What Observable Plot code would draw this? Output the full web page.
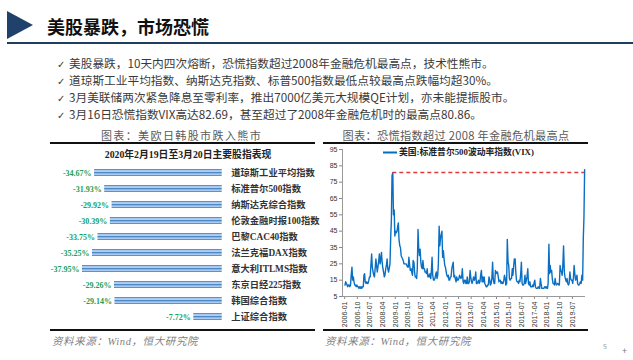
<!DOCTYPE html>
<html><head><meta charset="utf-8">
<script src="https://cdn.jsdelivr.net/npm/d3@7"></script>
<script src="https://cdn.jsdelivr.net/npm/@observablehq/plot@0.6"></script>
<style>
body{margin:0;background:#fff;}
#page{position:relative;width:633px;height:360px;overflow:hidden;background:#fff;font-family:"Noto Sans CJK SC",sans-serif;}
.abs{position:absolute;white-space:nowrap;}
.tri{position:absolute;left:7px;top:11px;width:0;height:0;border-left:26px solid #1f416b;border-top:14px solid transparent;border-bottom:14px solid transparent;}
.hline{position:absolute;left:7px;top:42px;width:626px;height:2px;background:#1f3d5e;}
.title{left:47px;top:15px;font-size:18px;line-height:22px;font-weight:bold;color:#111;}
.bullets{left:57px;top:54.5px;font-size:11.7px;line-height:15.3px;color:#3a3a3a;}
.bullets .ck{display:inline-block;width:12px;font-family:"DejaVu Sans";font-size:10px;}
.ctitle{font-size:11px;color:#5a5a5a;letter-spacing:0.8px;transform:translate(-50%,-50%);}
.rule{position:absolute;height:2px;background:#111;}
.sub{font-family:"Liberation Serif","Noto Sans CJK SC";font-weight:bold;font-size:9.8px;color:#222;transform:translate(-50%,-50%);}
.src{font-family:"Liberation Serif","Noto Sans CJK SC";font-style:italic;font-size:10.5px;color:#7f7f7f;letter-spacing:0.6px;transform:translateY(-50%);}
.legend{left:383px;top:151px;transform:translateY(-50%);font-family:"Liberation Serif","Noto Sans CJK SC";font-weight:bold;font-size:8.8px;color:#222;}
.legend .ln{display:inline-block;width:14px;height:1.5px;background:#0070c0;vertical-align:middle;margin-right:2px;}
.pn{left:603px;top:341px;font-size:7px;color:#999;}
</style></head><body>
<div id="page">
  <div class="tri"></div>
  <div class="hline"></div>
  <div class="abs title">美股暴跌，市场恐慌</div>
  <div class="abs bullets" id="bullets"></div>
  <div class="abs ctitle" style="left:181.5px;top:135px;letter-spacing:1.4px;">图表：美欧日韩股市跌入熊市</div>
  <div class="rule" style="left:50px;top:142px;width:265px;"></div>
  <div class="abs sub" style="left:188px;top:153.5px;">2020年2月19日至3月20日主要股指表现</div>
  <div class="abs" id="left" style="left:20px;top:160px;"></div>
  <div class="rule" style="left:50px;top:329px;width:265px;"></div>
  <div class="abs src" style="left:52px;top:339.5px;">资料来源：Wind，恒大研究院</div>

  <div class="abs ctitle" style="left:456px;top:135px;font-size:11.2px;letter-spacing:0.3px;">图表：恐慌指数超过 2008 年金融危机最高点</div>
  <div class="rule" style="left:323px;top:142px;width:265px;"></div>
  <div class="abs" id="right" style="left:318px;top:143px;"></div>
  <div class="abs legend"><span class="ln"></span>美国:标准普尔500波动率指数(VIX)</div>
  <div class="rule" style="left:323px;top:329px;width:265px;"></div>
  <div class="abs src" style="left:325px;top:340px;">资料来源：Wind，恒大研究院</div>
  <div class="abs pn">5</div>
  <div class="abs" style="left:622px;top:346px;font-size:9px;line-height:10px;color:#777;">+</div>
</div>
<script>
// ---------- Bullet texts ----------
const bulletTexts = [
  "美股暴跌，10天内四次熔断，恐慌指数超过2008年金融危机最高点，技术性熊市。",
  "道琼斯工业平均指数、纳斯达克指数、标普500指数最低点较最高点跌幅均超30%。",
  "3月美联储两次紧急降息至零利率，推出7000亿美元大规模QE计划，亦未能提振股市。",
  "3月16日恐慌指数VIX高达82.69，甚至超过了2008年金融危机时的最高点80.86。"
];

// ---------- Left chart data ----------
const indexNames = ["道琼斯工业平均指数","标准普尔500指数","纳斯达克综合指数","伦敦金融时报100指数","巴黎CAC40指数","法兰克福DAX指数","意大利ITLMS指数","东京日经225指数","韩国综合指数","上证综合指数"];
const indexChanges = [-34.67,-31.93,-29.92,-30.39,-33.75,-35.25,-37.95,-29.26,-29.14,-7.72];

// ---------- Right chart data (VIX, two readings per month) ----------
const vixYears = [2006,2007,2008,2009,2010,2011,2012,2013,2014,2015,2016,2017,2018,2019,2020];
const vix2006 = [12,14, 13,12, 11,12, 12,11, 12,18, 23,15, 17,14, 12,12, 11,12, 11,11, 10,11, 10,11];
const vix2007 = [10,11, 11,18, 19,14, 13,14, 13,13, 15,17, 17,24, 31,23, 20,18, 17,22, 28,24, 20,23];
const vix2008 = [27,31, 25,28, 32,26, 22,20, 17,18, 22,24, 28,22, 20,22, 25,40, 52,79, 80.86,55, 58,42];
const vix2009 = [45,44, 45,48, 50,40, 36,35, 30,29, 28,27, 25,25, 25,25, 24,23, 23,29, 24,21, 22,20];
const vix2010 = [18,27, 26,20, 17,17, 16,22, 46,35, 30,34, 26,23, 22,27, 22,22, 20,20, 19,22, 17,18];
const vix2011 = [17,19, 16,21, 29,18, 15,15, 16,18, 20,16, 18,25, 48,36, 41,43, 45,29, 33,28, 24,23];
const vix2012 = [20,18, 17,18, 15,15, 17,17, 22,24, 26,17, 18,16, 14,17, 15,15, 16,18, 17,16, 17,22];
const vix2013 = [14,13, 15,15, 13,13, 17,13, 13,14, 21,17, 14,13, 15,17, 15,16, 20,13, 13,14, 15,13];
const vix2014 = [14,18, 21,14, 17,14, 17,13, 12,11, 11,12, 12,17, 15,12, 13,16, 26,16, 13,13, 21,19];
const vix2015 = [20,20, 17,14, 15,15, 13,14, 13,13, 15,18, 16,12, 13,40, 26,24, 16,15, 16,16, 22,18];
const vix2016 = [24,28, 28,20, 15,14, 14,13, 15,14, 19,26, 13,12, 12,13, 18,13, 15,17, 22,13, 12,14];
const vix2017 = [11,11, 11,12, 11,13, 15,11, 10,10, 10,11, 10,10, 16,13, 10,10, 10,10, 11,11, 10,11];
const vix2018 = [10,13, 37,19, 24,20, 21,16, 13,13, 12,16, 13,12, 13,13, 12,12, 24,21, 20,18, 25,36];
const vix2019 = [20,17, 15,14, 16,13, 12,13, 20,16, 15,15, 13,16, 24,19, 15,16, 18,13, 12,12, 13,14];
const vix2020 = [13,18, 15,40, 54,82.69];
const vixPeak2008 = 80.86;
const yTicks = [5,15,25,35,45,55,65,75,85,95];
const xTickLabels = ["2006-01","2006-10","2007-07","2008-04","2009-01","2009-10","2010-07","2011-04","2012-01","2012-10","2013-07","2014-04","2015-01","2015-10","2016-07","2017-04","2018-01","2018-10","2019-07"];

// ---------- Bullets ----------
document.getElementById("bullets").innerHTML = bulletTexts.map(t => `<div><span class="ck">✓</span>${t}</div>`).join("");

// ---------- Left bar chart ----------
const barData = indexNames.map((name, i) => ({name, value: indexChanges[i]}));
const left = Plot.plot({
  width: 300, height: 170,
  marginLeft: 0, marginRight: 98.3, marginTop: 0, marginBottom: 0,
  x: {domain: [-54.8, 0], axis: null},
  y: {domain: indexNames, range: [5.6, 163.9], paddingInner: 0.58, paddingOuter: 0.1, axis: null},
  style: {background: "transparent", fontFamily: "'Liberation Serif','Noto Sans CJK SC'", overflow: "visible"},
  marks: [
    Plot.barX(barData, {x1: "value", x2: 0, y: "name", fill: "url(#barGrad)"}),
    Plot.text(barData, {x: "value", y: "name", text: d => d.value.toFixed(2) + "%", textAnchor: "end", dx: -3, fill: "#22a05a", fontWeight: "bold", fontSize: 8}),
    Plot.text(barData, {x: 0, y: "name", text: "name", textAnchor: "start", dx: 9, fill: "#333", fontWeight: "bold", fontSize: 9.3})
  ]
});
(function addGrad(svg){
  const ns = "http://www.w3.org/2000/svg";
  const defs = document.createElementNS(ns, "defs");
  const g = document.createElementNS(ns, "linearGradient");
  g.setAttribute("id", "barGrad"); g.setAttribute("x1","0"); g.setAttribute("y1","0"); g.setAttribute("x2","0"); g.setAttribute("y2","1");
  [[0,"#3f78bd"],[0.18,"#86b4e6"],[0.3,"#ffffff"],[0.42,"#5b95d6"],[0.6,"#3c79c2"],[0.7,"#ffffff"],[0.82,"#8ab6e6"],[1,"#3f78bd"]].forEach(([o,c]) => {
    const s = document.createElementNS(ns, "stop"); s.setAttribute("offset", o); s.setAttribute("stop-color", c); g.appendChild(s);
  });
  defs.appendChild(g); svg.insertBefore(defs, svg.firstChild);
})(left);
document.getElementById("left").appendChild(left);

// ---------- Right VIX chart ----------
const vixByYear = [vix2006,vix2007,vix2008,vix2009,vix2010,vix2011,vix2012,vix2013,vix2014,vix2015,vix2016,vix2017,vix2018,vix2019,vix2020];
const vixData = [];
vixByYear.forEach((vals, yi) => {
  vals.forEach((v, k) => {
    vixData.push({date: new Date(Date.UTC(vixYears[yi], Math.floor(k / 2), k % 2 === 0 ? 8 : 22)), value: v});
  });
});
const peakPoint = vixData.find(d => d.value === vixPeak2008);
const lastPoint = vixData[vixData.length - 1];
const parseM = d3.utcParse("%Y-%m");
const xTicks = xTickLabels.map(parseM);
const x0 = new Date(Date.UTC(2005, 10, 15)), x1 = new Date(Date.UTC(2020, 3, 10));
const right = Plot.plot({
  width: 272, height: 200,
  marginLeft: 24, marginRight: 5, marginTop: 6, marginBottom: 47,
  x: {type: "utc", domain: [x0, x1]},
  y: {domain: [5, 95]},
  style: {background: "transparent", fontFamily: "'Liberation Sans',Arial,sans-serif", fontSize: "7px", color: "#333", overflow: "visible"},
  marks: [
    Plot.axisY({ticks: yTicks, tickSize: 3, tickPadding: 2, label: null, stroke: "#888"}),
    Plot.axisX({ticks: xTicks, tickFormat: d3.utcFormat("%Y-%m"), tickRotate: -90, tickSize: 3, tickPadding: 2, label: null, stroke: "#888"}),
    Plot.ruleX([x0], {y1: 5, y2: 95, stroke: "#999"}),
    Plot.ruleY([5], {stroke: "#999"}),
    Plot.lineY(vixData, {x: "date", y: "value", stroke: "#0a6fc2", strokeWidth: 1.4}),
    Plot.ruleY([vixPeak2008], {x1: peakPoint.date, x2: lastPoint.date, stroke: "#e03a3a", strokeWidth: 1.5, strokeDasharray: "4,3"})
  ]
});
document.getElementById("right").appendChild(right);
</script>
</body></html>
